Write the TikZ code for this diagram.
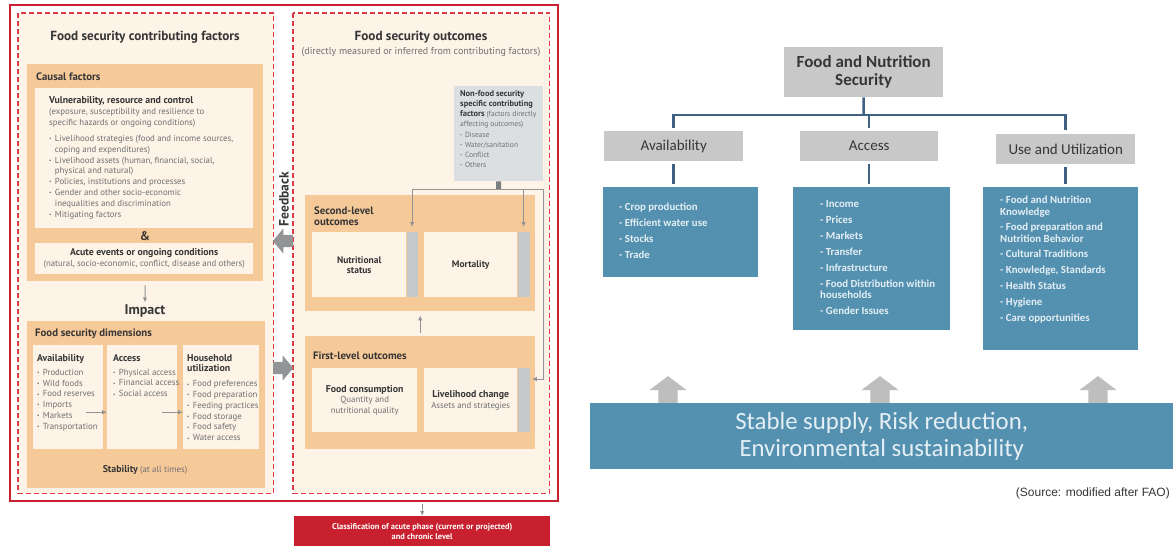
\documentclass[tikz,border=0pt]{standalone}
\usepackage{fontspec}
\usepackage{tikz}
\usetikzlibrary{positioning,shapes.arrows,arrows.meta,calc}

\newfontfamily\ipcfont{PT Sans}
\newfontfamily\ipcbold{PT Sans}[Scale=1.12]
\newfontfamily\faofont{Carlito}
\newfontfamily\srcfont{Liberation Sans}

\definecolor{ipcred}{HTML}{C8202E}
\definecolor{dashred}{HTML}{DA3A45}
\definecolor{cream}{HTML}{FDF3E6}
\definecolor{peach}{HTML}{F6C999}
\definecolor{bargray}{HTML}{C6C7C9}
\definecolor{nfgray}{HTML}{DCDFE1}
\definecolor{stubgray}{HTML}{7E7F81}
\definecolor{arrowgray}{HTML}{939496}
\definecolor{ipcdark}{HTML}{363636}
\definecolor{ipcgray}{HTML}{6F7072}
\definecolor{faogray}{HTML}{C8C8C8}
\definecolor{faoblue}{HTML}{5490AF}
\definecolor{faoline}{HTML}{3F6183}
\definecolor{faotext}{HTML}{E4EFF5}
\definecolor{upgray}{HTML}{BEBEBE}

% bullets for the IPC lists
\newcommand{\ipcbul}{\makebox[0.65em][l]{\raisebox{.15ex}{\scalebox{.6}{\textbullet}}}}
\newcommand{\ipcind}{\makebox[0.65em]{}}
\newcommand{\ipchead}[1]{{\color{ipcdark}\ipcbold\bfseries #1}}

\begin{document}
\begin{tikzpicture}[
  x=1pt, y=-1pt,
  every node/.style={inner sep=0pt},
  frame/.style={draw=ipcred, line width=2pt, fill=white, anchor=north west},
  dashbox/.style={fill=cream, anchor=north west},
  dashline/.style={draw=dashred, line width=1.8pt, dash pattern=on 5pt off 3pt},
  peachbox/.style={fill=peach, anchor=north west},
  lightbox/.style={fill=cream, anchor=north west, align=center, text=ipcgray, font=\ipcfont\fontsize{8.8}{10.8}\selectfont},
  graybar/.style={fill=bargray, anchor=north west},
  boxtitle/.style={font=\ipcfont\bfseries\fontsize{10.8}{11}\selectfont, text=ipcdark, align=left},
  body/.style={font=\ipcfont\fontsize{8.8}{10.8}\selectfont, text=ipcgray, align=left, anchor=north west},
  arrow/.style={-{Latex[length=5pt,width=4.5pt]}, draw=arrowgray, line width=1pt},
  bigarrow/.style={single arrow, fill=arrowgray, inner sep=6pt, minimum height=20pt, single arrow head extend=6.5pt, single arrow tip angle=100, anchor=tail},
  faohead/.style={fill=faogray, anchor=north west, text=ipcdark, font=\faofont\fontsize{15}{18}\selectfont},
  faolist/.style={fill=faoblue, anchor=north west},
  faoitems/.style={font=\faofont\bfseries\fontsize{10.8}{11.75}\selectfont, text=faotext, align=left, anchor=north west},
  faoconn/.style={draw=faoline, line width=2.5pt},
  raisearrow/.style={single arrow, fill=upgray, rotate=90, inner sep=9.5pt, minimum height=25pt, single arrow head extend=9pt, single arrow tip angle=106, anchor=tail}
]
  \useasboundingbox (0,0) rectangle (1173,546);
  \fill[white] (0,0) rectangle (1173,546);

  % ---------- IPC framework ----------
  \node[frame, minimum width=548pt, minimum height=496pt] (frame) at (9,4) {};
  \node[dashbox, minimum width=255pt, minimum height=480pt] (factors) at (18,13) {};
  \node[dashbox, minimum width=256pt, minimum height=480pt] (outcomes) at (293,13) {};
  \draw[dashline] (factors.north west) rectangle (factors.south east);
  \draw[dashline] (outcomes.north west) rectangle (outcomes.south east);

  \node[font=\ipcfont\bfseries\fontsize{13.2}{15}\selectfont, text=ipcdark] (factorstitle) at (145,37) {Food security contributing factors};
  \node[font=\ipcfont\bfseries\fontsize{13.2}{15}\selectfont, text=ipcdark] (outcomestitle) at (421,37) {Food security outcomes};
  \node[font=\ipcfont\fontsize{10}{11}\selectfont, text=ipcgray] (outcomessub) at (421,52) {(directly measured or inferred from contributing factors)};

  % causal factors
  \node[peachbox, minimum width=236pt, minimum height=217pt] (causal) at (27,64) {};
  \node[boxtitle, anchor=west] (causaltitle) at (36,77) {Causal factors};
  \node[lightbox, minimum width=218pt, minimum height=140pt] (vuln) at (35,88) {};
  \node[body] (vulntext) at (49,96.5) {
    \ipchead{Vulnerability, resource and control}\\
    (exposure, susceptibility and resilience to\\
    specific hazards or ongoing conditions)\\[5.3pt]
    \ipcbul Livelihood strategies (food and income sources,\\
    \ipcind coping and expenditures)\\
    \ipcbul Livelihood assets (human, financial, social,\\
    \ipcind physical and natural)\\
    \ipcbul Policies, institutions and processes\\
    \ipcbul Gender and other socio-economic\\
    \ipcind inequalities and discrimination\\
    \ipcbul Mitigating factors};
  \node[font=\ipcfont\bfseries\fontsize{12.5}{14}\selectfont, text=ipcdark] (amp) at (145,236) {\&};
  \node[lightbox, minimum width=218pt, minimum height=31pt] (acute) at (35,243)
    {\ipchead{Acute events or ongoing conditions}\\
     (natural, socio-economic, conflict, disease and others)};

  \node[font=\ipcfont\bfseries\fontsize{14}{15}\selectfont, text=ipcdark] (impact) at (145,311) {Impact};
  \draw[arrow] ([yshift=-4pt]causal.south) -- ([yshift=2pt]impact.north);

  % food security dimensions
  \node[peachbox, minimum width=238pt, minimum height=167pt] (dims) at (27,321) {};
  \node[boxtitle, anchor=west] (dimstitle) at (35,334) {Food security dimensions};
  \node[lightbox, minimum width=70pt, minimum height=104pt] (avail) at (33,345) {};
  \node[lightbox, minimum width=70pt, minimum height=104pt] (access) at (107,345) {};
  \node[lightbox, minimum width=76pt, minimum height=104pt] (house) at (183,345) {};
  \node[body] (availtext) at (37,354) {
    \ipchead{Availability}\\[3.2pt]
    \ipcbul Production\\ \ipcbul Wild foods\\ \ipcbul Food reserves\\
    \ipcbul Imports\\ \ipcbul Markets\\ \ipcbul Transportation};
  \node[body] (accesstext) at (113,354) {
    \ipchead{Access}\\[3.2pt]
    \ipcbul Physical access\\ \ipcbul Financial access\\ \ipcbul Social access};
  \node[body] (housetext) at (187,354) {
    \ipchead{Household}\\
    \ipchead{utilization}\\[4pt]
    \ipcbul Food preferences\\ \ipcbul Food preparation\\ \ipcbul Feeding practices\\
    \ipcbul Food storage\\ \ipcbul Food safety\\ \ipcbul Water access};
  \draw[arrow] ([xshift=-21pt,yshift=-15pt]access.west) -- ([yshift=-15pt]access.west);
  \draw[arrow] ([xshift=-21pt,yshift=-15pt]house.west) -- ([yshift=-15pt]house.west);
  \node[font=\ipcfont\fontsize{8.8}{10}\selectfont, text=ipcgray] (stability) at (145,470)
    {\ipchead{Stability} (at all times)};

  % feedback and impact arrows between the halves
  \node[bigarrow, rotate=180] (feedback) at (293,241) {};
  \node[rotate=90, font=\ipcfont\bfseries\fontsize{13.5}{15}\selectfont, text=ipcdark] (feedbacktext) at (284,199) {Feedback};
  \node[bigarrow] (impactarrow) at (273,368) {};

  % non-food factors
  \node[fill=nfgray, anchor=north west, minimum width=89pt, minimum height=95pt] (nonfood) at (454,86) {};
  \node[body, font=\ipcfont\fontsize{7.5}{9.9}\selectfont] (nonfoodtext) at (460,90.5) {
    \ipchead{Non-food security}\\
    \ipchead{specific contributing}\\
    \ipchead{factors} (factors directly\\
    affecting outcomes)\\[1.2pt]
    \ipcbul Disease\\ \ipcbul Water/sanitation\\ \ipcbul Conflict\\ \ipcbul Others};

  % second-level outcomes
  \node[peachbox, minimum width=230pt, minimum height=116pt] (second) at (305,195) {};
  \node[boxtitle, anchor=north west] (secondtitle) at (314,207) {Second-level\\outcomes};
  \node[lightbox, minimum width=94pt, minimum height=65pt, text=ipcdark, font=\ipcbold\bfseries\fontsize{8.5}{10}\selectfont] (nutr) at (312,232) {Nutritional\\status};
  \node[graybar, minimum width=11pt, minimum height=65pt, right=0pt of nutr.north east, anchor=north west] (nutrbar) {};
  \node[lightbox, minimum width=93pt, minimum height=65pt, text=ipcdark, font=\ipcbold\bfseries\fontsize{8.5}{10}\selectfont] (mort) at (424,232) {Mortality};
  \node[graybar, minimum width=12pt, minimum height=65pt, right=0pt of mort.north east, anchor=north west] (mortbar) {};

  % first-level outcomes
  \node[peachbox, minimum width=230pt, minimum height=113pt] (first) at (305,336) {};
  \node[boxtitle, anchor=west] (firsttitle) at (313,356) {First-level outcomes};
  \node[lightbox, minimum width=105pt, minimum height=64pt] (cons) at (312,368)
    {\ipchead{Food consumption}\\ Quantity and\\ nutritional quality};
  \node[lightbox, minimum width=93pt, minimum height=64pt] (live) at (424,368)
    {\ipchead{Livelihood change}\\ Assets and strategies};
  \node[graybar, minimum width=12pt, minimum height=64pt, right=0pt of live.north east, anchor=north west] (livebar) {};
  \draw[arrow] ([yshift=3pt]first.north) -- ([yshift=-4pt]second.south);

  % links from the non-food factors
  \coordinate (split) at (498.5,189);
  \coordinate (rail) at (543,189);
  \coordinate (railend) at (543,379);
  \draw[draw=stubgray, line width=5pt] (nonfood.south) -- (split);
  \draw[arrow] (split) -| ([yshift=5pt]nutrbar.north);
  \draw[arrow] (split) -| ([yshift=5pt]mortbar.north);
  \draw[arrow] (split) -- (rail) -- (railend) -- ($(railend -| livebar.east)+(2,0)$);

  % classification
  \node[fill=ipcred, anchor=north west, minimum width=256pt, minimum height=30pt, align=center, text=white, font=\ipcfont\bfseries\fontsize{8.4}{10}\selectfont] (class) at (294,516)
    {Classification of acute phase (current or projected)\\ and chronic level};
  \draw[arrow] ($(frame.south -| class.north)+(0,2)$) -- (class.north);

  % ---------- FAO pillars ----------
  \node[faohead, minimum width=159pt, minimum height=50pt, align=center, font=\faofont\bfseries\fontsize{17}{18}\selectfont] (fns) at (784,47) {Food and Nutrition\\Security};
  \node[faohead, minimum width=139pt, minimum height=30pt] (availhead) at (604,131) {Availability};
  \node[faohead, minimum width=138pt, minimum height=30pt] (accesshead) at (800,131) {Access};
  \node[faohead, minimum width=139pt, minimum height=30pt] (usehead) at (996,134) {Use and Utilization};

  \coordinate (bus) at (863.5,115);
  \draw[faoconn] (fns.south) -- (bus);
  \draw[faoconn] ([yshift=3pt]availhead.north) |- (bus) -| ([yshift=4pt]usehead.north);
  \draw[faoconn] (bus -| accesshead.north) -- ([yshift=3pt]accesshead.north);

  \node[faolist, minimum width=155pt, minimum height=90pt] (availlist) at (603,187) {};
  \node[faolist, minimum width=157pt, minimum height=143pt] (accesslist) at (793,187) {};
  \node[faolist, minimum width=155pt, minimum height=163pt] (uselist) at (983,187) {};
  \draw[faoconn] ([yshift=-3pt]availhead.south) -- ($(availhead.south |- availlist.north)+(0,-3)$);
  \draw[faoconn] ([yshift=-3pt]accesshead.south) -- ($(accesshead.south |- accesslist.north)+(0,-3)$);
  \draw[faoconn] ([yshift=-3pt]usehead.south) -- ($(usehead.south |- uselist.north)+(0,-3)$);

  \node[faoitems] (availitems) at (619,203) {
    - Crop production\\[4.25pt] - Efficient water use\\[4.25pt] - Stocks\\[4.25pt] - Trade};
  \node[faoitems] (accessitems) at (820,200) {
    - Income\\[4.25pt] - Prices\\[4.25pt] - Markets\\[4.25pt] - Transfer\\[4.25pt]
    - Infrastructure\\[4.25pt] - Food Distribution within\\ households\\[4.25pt] - Gender Issues};
  \node[faoitems] (useitems) at (1000,196) {
    - Food and Nutrition\\ Knowledge\\[3.5pt] - Food preparation and\\ Nutrition Behavior\\[3.5pt]
    - Cultural Traditions\\[4.25pt] - Knowledge, Standards\\[4.25pt] - Health Status\\[4.25pt]
    - Hygiene\\[4.25pt] - Care opportunities};

  \node[raisearrow] (raise1) at (668,403) {};
  \node[raisearrow] (raise2) at (880,403) {};
  \node[raisearrow] (raise3) at (1098,403) {};
  \node[fill=faoblue, anchor=north west, minimum width=583pt, minimum height=66pt, align=center, text=faotext, font=\faofont\fontsize{24.8}{27}\selectfont] (stable) at (590,403)
    {Stable supply, Risk reduction,\\Environmental sustainability};

  \node[anchor=east, text=ipcdark, font=\srcfont\fontsize{12}{13}\selectfont] (source) at (1170,493) {(Source: modified after FAO)};
\end{tikzpicture}
\end{document}
